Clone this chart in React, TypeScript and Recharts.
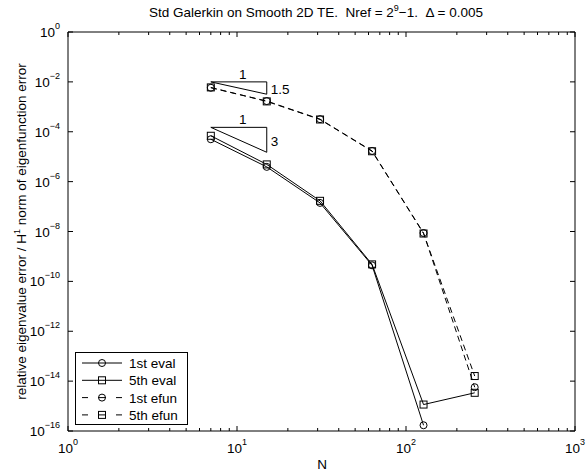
import React from 'react';
import { LineChart, Line, XAxis, YAxis, Legend, ReferenceDot, Customized } from 'recharts';

// N values and error data
const nValues = [7, 15, 31, 63, 127, 255];
const eval1st = [5.0e-5, 3.9e-6, 1.4e-7, 4.4e-10, 1.7e-16, null];
const eval5th = [6.9e-5, 4.9e-6, 1.7e-7, 4.8e-10, 1.15e-15, 3.4e-15];
const efun1st = [5.8e-3, 1.7e-3, 3.2e-4, 1.7e-5, 8.7e-9, 5.7e-15];
const efun5th = [6.0e-3, 1.65e-3, 3.1e-4, 1.65e-5, 8.3e-9, 1.6e-14];

// slope triangles (closed paths)
const triangleN = [7, 15, 15, 7];
const triangle15 = [1e-2, 1e-2, 3.2e-3, 1e-2];
const triangle3 = [1.5e-4, 1.5e-4, 1.5e-5, 1.5e-4];

const xTicks = [
  1, 2, 3, 4, 5, 6, 7, 8, 9,
  10, 20, 30, 40, 50, 60, 70, 80, 90,
  100, 200, 300, 400, 500, 600, 700, 800, 900,
  1000,
];
const yTicks = [1, 1e-2, 1e-4, 1e-6, 1e-8, 1e-10, 1e-12, 1e-14, 1e-16];

const FONT = '"Liberation Sans", Arial, Helvetica, sans-serif';
const FS = 13.5;
const SUP = 9;

const rows = nValues.map((n, i) => ({
  n,
  eval1: eval1st[i],
  eval5: eval5th[i],
  efun1: efun1st[i],
  efun5: efun5th[i],
}));
const tri15Rows = triangleN.map((n, i) => ({ n, v: triangle15[i] }));
const tri3Rows = triangleN.map((n, i) => ({ n, v: triangle3[i] }));

const series = [
  { key: 'eval1', name: '1st eval', marker: 'circle', dashed: false },
  { key: 'eval5', name: '5th eval', marker: 'square', dashed: false },
  { key: 'efun1', name: '1st efun', marker: 'circle', dashed: true },
  { key: 'efun5', name: '5th efun', marker: 'square', dashed: true },
];

const isDecade = (v: number) => Math.abs(Math.log10(v) - Math.round(Math.log10(v))) < 1e-9;
const expText = (v: number) => {
  const e = Math.round(Math.log10(v));
  return e < 0 ? '\u2212' + -e : String(e);
};

// tick props: x/y come in at the axis line + tickSize(1) + tickMargin(0)
const BottomTick = (props: any) => {
  const { x, y, payload } = props;
  const ay = y - 1;
  const major = isDecade(payload.value);
  return (
    <g>
      <path d={`M${x},${ay}V${ay - (major ? 5 : 3)}`} stroke="#000" strokeWidth={1} fill="none" />
      {major && (
        <text x={x} y={ay + 22} textAnchor="middle" fontSize={FS} fontFamily={FONT} fill="#000">
          10<tspan dy={-8} fontSize={SUP}>{expText(payload.value)}</tspan>
        </text>
      )}
    </g>
  );
};

const TopTick = (props: any) => {
  const { x, y, payload } = props;
  const ay = y + 1;
  const major = isDecade(payload.value);
  return <path d={`M${x},${ay}V${ay + (major ? 5 : 3)}`} stroke="#000" strokeWidth={1} fill="none" />;
};

const LeftTick = (props: any) => {
  const { x, y, payload } = props;
  const ax = x + 1;
  return (
    <g>
      <path d={`M${ax},${y}H${ax + 5}`} stroke="#000" strokeWidth={1} fill="none" />
      <text x={ax - 8} y={y + 5} textAnchor="end" fontSize={FS} fontFamily={FONT} fill="#000">
        10<tspan dy={-8} fontSize={SUP}>{expText(payload.value)}</tspan>
      </text>
    </g>
  );
};

const RightTick = (props: any) => {
  const { x, y } = props;
  const ax = x - 1;
  return <path d={`M${ax},${y}H${ax - 5}`} stroke="#000" strokeWidth={1} fill="none" />;
};

const CircleDot = (props: any) => {
  const { cx, cy, index } = props;
  if (cx == null || cy == null) return <g key={`c${index}`} />;
  return <circle key={`c${index}`} cx={cx} cy={cy} r={3.5} fill="none" stroke="#000" strokeWidth={1} />;
};

const SquareDot = (props: any) => {
  const { cx, cy, index } = props;
  if (cx == null || cy == null) return <g key={`s${index}`} />;
  return <rect key={`s${index}`} x={cx - 3.5} y={cy - 3.5} width={7} height={7} fill="none" stroke="#000" strokeWidth={1} />;
};

const LegendBox = () => (
  <svg width={113} height={73} style={{ display: 'block' }}>
    <rect x={0.5} y={0.5} width={112} height={72} fill="#fff" stroke="#000" />
    {series.map((s, i) => {
      const cy = 11 + i * 17.3;
      const mx = 27;
      return (
        <g key={s.key}>
          {s.dashed ? (
            <g stroke="#000">
              <line x1={7} x2={13} y1={cy} y2={cy} />
              <line x1={23} x2={31} y1={cy} y2={cy} />
              <line x1={41} x2={47} y1={cy} y2={cy} />
            </g>
          ) : (
            <line x1={7} x2={47} y1={cy} y2={cy} stroke="#000" />
          )}
          {s.marker === 'circle' ? (
            <circle cx={mx} cy={cy} r={3.5} fill="none" stroke="#000" />
          ) : (
            <rect x={mx - 3.5} y={cy - 3.5} width={7} height={7} fill="none" stroke="#000" />
          )}
          <text x={54} y={cy + 5} fontSize={FS} fontFamily={FONT} fill="#000">
            {s.name}
          </text>
        </g>
      );
    })}
  </svg>
);

const TextLayer = () => (
  <g fontFamily={FONT} fill="#000">
    <text x={316} y={17} textAnchor="middle" fontSize={FS} style={{ whiteSpace: 'pre' }}>
      {'Std Galerkin on Smooth 2D TE.  Nref = 2'}
      <tspan dy={-6} fontSize={SUP}>9</tspan>
      <tspan dy={6}>{'\u22121.  \u0394 = 0.005'}</tspan>
    </text>
    <text x={322} y={469} textAnchor="middle" fontSize={FS}>N</text>
    <text transform="rotate(-90)" x={-231.5} y={26} textAnchor="middle" fontSize={FS}>
      relative eigenvalue error / H<tspan dy={-6} fontSize={SUP}>1</tspan>
      <tspan dy={6}> norm of eigenfunction error</tspan>
    </text>
  </g>
);

const labelStyle = { fontSize: FS, fill: '#000', fontFamily: FONT };

export default function App() {
  return (
    <div style={{ position: 'absolute', left: 0, top: 0, width: 587, height: 471, background: '#fff' }}>
      <LineChart width={587} height={471} data={rows} margin={{ top: 31, right: 11, bottom: 0, left: 0 }}>
        <XAxis
          xAxisId="b" dataKey="n" type="number" scale="log" domain={[1, 1000]} allowDataOverflow
          ticks={xTicks} interval={0} tickSize={1} tickMargin={0} tickLine={false}
          tick={<BottomTick />} axisLine={{ stroke: '#000', strokeWidth: 1 }} stroke="#000" height={40} orientation="bottom"
        />
        <XAxis
          xAxisId="t" dataKey="n" type="number" scale="log" domain={[1, 1000]} allowDataOverflow
          ticks={xTicks} interval={0} tickSize={1} tickMargin={0} tickLine={false}
          tick={<TopTick />} axisLine={{ stroke: '#000', strokeWidth: 1 }} stroke="#000" height={1} orientation="top"
        />
        <YAxis
          yAxisId="l" type="number" scale="log" domain={[1e-16, 1]} allowDataOverflow
          ticks={yTicks} interval={0} tickSize={1} tickMargin={0} tickLine={false}
          tick={<LeftTick />} axisLine={{ stroke: '#000', strokeWidth: 1 }} stroke="#000" width={68} orientation="left"
        />
        <YAxis
          yAxisId="r" type="number" scale="log" domain={[1e-16, 1]} allowDataOverflow
          ticks={yTicks} interval={0} tickSize={1} tickMargin={0} tickLine={false}
          tick={<RightTick />} axisLine={{ stroke: '#000', strokeWidth: 1 }} stroke="#000" width={1} orientation="right"
        />

        <Line xAxisId="b" yAxisId="l" data={tri15Rows} dataKey="v" type="linear" stroke="#000" strokeWidth={1}
          dot={false} activeDot={false} legendType="none" isAnimationActive={false} />
        <Line xAxisId="b" yAxisId="l" data={tri3Rows} dataKey="v" type="linear" stroke="#000" strokeWidth={1}
          dot={false} activeDot={false} legendType="none" isAnimationActive={false} />

        {series.map((s) => (
          <Line
            key={s.key}
            xAxisId="b"
            yAxisId="l"
            dataKey={s.key}
            name={s.name}
            type="linear"
            stroke="#000"
            strokeWidth={1}
            strokeDasharray={s.dashed ? '6 4' : undefined}
            dot={s.marker === 'circle' ? CircleDot : SquareDot}
            activeDot={false}
            isAnimationActive={false}
          />
        ))}

        <ReferenceDot xAxisId="b" yAxisId="l" x={10.8} y={1e-2} r={0} fill="none" stroke="none"
          label={{ value: '1', position: 'top', offset: 3, ...labelStyle }} />
        <ReferenceDot xAxisId="b" yAxisId="l" x={15} y={5.1e-3} r={0} fill="none" stroke="none"
          label={{ value: '1.5', position: 'right', offset: 4, ...labelStyle }} />
        <ReferenceDot xAxisId="b" yAxisId="l" x={10.8} y={1.5e-4} r={0} fill="none" stroke="none"
          label={{ value: '1', position: 'top', offset: 3, ...labelStyle }} />
        <ReferenceDot xAxisId="b" yAxisId="l" x={15} y={4.3e-5} r={0} fill="none" stroke="none"
          label={{ value: '3', position: 'right', offset: 4, ...labelStyle }} />

        <Legend
          layout="vertical"
          align="center"
          verticalAlign="middle"
          content={<LegendBox />}
          wrapperStyle={{ position: 'absolute', left: 75, top: 352, width: 113, height: 73 }}
        />
        <Customized component={<TextLayer />} />
      </LineChart>
    </div>
  );
}
